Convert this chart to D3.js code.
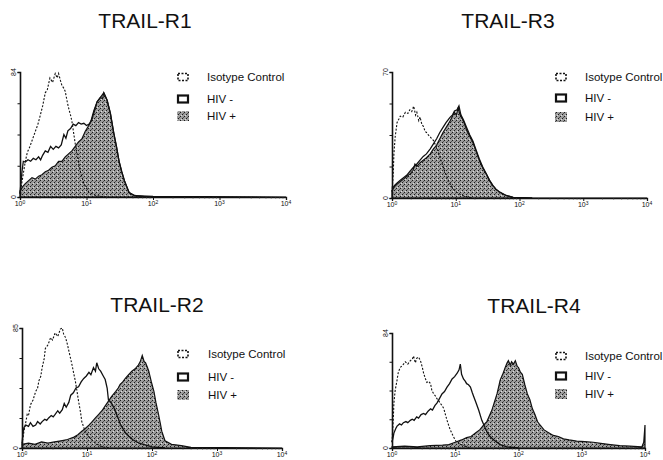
<!DOCTYPE html>
<html>

<head>
  <meta charset="utf-8">
  <title>TRAIL receptor histograms</title>
  <style>
    body { margin: 0; background: #fff; }
    text { font-family: "Liberation Sans", Arial, sans-serif; fill: #111; }
  </style>
</head>

<body>
  <svg width="663" height="460"></svg>
  <script src="https://d3js.org/d3.v7.min.js"></script>
  <script>
    // 1. data: [log10 fluorescence, cell count]
    var legendLabels = ["Isotype Control", "HIV -", "HIV +"];
    var decadeTicks = [0, 1, 2, 3, 4];

    var r1Iso = [[0,2],[0.04,13],[0.08,24],[0.11,30],[0.15,34],[0.19,39],[0.23,44],[0.27,49],[0.30,54],[0.34,61],[0.38,70],[0.41,72],[0.45,80],[0.49,77],[0.53,83],[0.56,80],[0.58,83],[0.61,78],[0.63,75],[0.66,73],[0.68,71],[0.71,64],[0.73,60],[0.76,55],[0.78,51],[0.81,42],[0.83,36],[0.86,29],[0.88,23],[0.92,15],[0.96,9],[1.00,6],[1.04,3],[1.14,1],[1.30,0]];
    var r1Neg = [[0,2.5],[0.03,17],[0.05,24],[0.08,23.5],[0.12,25],[0.16,24],[0.20,26],[0.24,25],[0.28,27],[0.31,25],[0.34,28],[0.38,31],[0.42,30],[0.46,34],[0.50,32],[0.54,34],[0.58,33],[0.62,35],[0.66,42],[0.69,39.5],[0.72,44.5],[0.76,46],[0.80,49],[0.84,48],[0.88,50],[0.92,49],[0.96,49.5],[1.00,48],[1.04,49],[1.08,52],[1.12,58],[1.16,64],[1.21,67],[1.26,70],[1.31,65],[1.36,56],[1.41,43],[1.45,34],[1.49,24],[1.53,17],[1.57,11],[1.64,3],[1.72,1],[1.90,0]];
    var r1Pos = [[0,4],[0.04,7],[0.08,9],[0.13,11],[0.18,13],[0.23,12],[0.28,14],[0.33,15],[0.38,17],[0.43,18],[0.48,20],[0.53,21],[0.58,24],[0.63,24],[0.68,27],[0.73,29],[0.78,31],[0.83,34],[0.88,37],[0.93,39],[0.98,44],[1.02,47],[1.06,50],[1.11,58],[1.16,64],[1.21,67],[1.24,66],[1.26,70],[1.29,67],[1.31,65],[1.36,56],[1.41,43],[1.45,34],[1.49,24],[1.53,17],[1.57,11],[1.64,3],[1.72,1],[2.0,0.4],[4,0]];

    var r3Iso = [[0,3.5],[0.02,14],[0.03,24.5],[0.05,34],[0.08,42],[0.11,44],[0.13,45.5],[0.17,45],[0.21,47.6],[0.25,47],[0.28,49],[0.31,48],[0.34,51],[0.37,46],[0.39,47.6],[0.42,43],[0.44,45],[0.47,40.6],[0.49,40],[0.52,37],[0.54,36.4],[0.57,35],[0.60,34],[0.62,33],[0.65,32],[0.70,28],[0.75,23],[0.80,17.5],[0.85,12.6],[0.90,8.4],[0.95,5.6],[1.00,3.5],[1.10,1.4],[1.25,0]];
    var r3Neg = [[0,4.9],[0.04,7],[0.08,8.4],[0.13,9.8],[0.18,11.2],[0.23,12.6],[0.28,14.7],[0.33,16.8],[0.39,18.9],[0.44,21],[0.49,23.1],[0.54,24.5],[0.60,27.3],[0.65,30.1],[0.70,32.9],[0.75,36.4],[0.80,39.2],[0.85,42],[0.91,44.8],[0.95,46.2],[0.98,48.3],[1.02,49],[1.05,51.1],[1.08,46.2],[1.12,43.4],[1.17,39.2],[1.22,35],[1.27,31.5],[1.32,26.6],[1.37,21.7],[1.42,17.5],[1.48,13.3],[1.53,9.8],[1.58,7],[1.63,4.9],[1.68,3.5],[1.79,1.4],[1.90,0.35],[2.2,0]];
    var r3Pos = [[0,4.2],[0.04,6.3],[0.08,7.7],[0.13,9.1],[0.18,10.5],[0.23,11.9],[0.28,13.3],[0.33,15.4],[0.36,18.9],[0.39,17.5],[0.44,19.6],[0.49,21],[0.54,22.4],[0.60,24.5],[0.65,27.3],[0.70,29.4],[0.75,32.9],[0.80,36.4],[0.85,39.2],[0.91,42.7],[0.95,45.5],[0.98,47.6],[1.01,46.2],[1.04,50.4],[1.06,46.9],[1.09,44.8],[1.13,42],[1.17,37.8],[1.22,34.3],[1.27,30.8],[1.32,25.9],[1.37,21],[1.42,16.8],[1.48,13.3],[1.53,9.8],[1.58,7],[1.63,4.9],[1.68,3.5],[1.79,1.4],[1.90,0.35],[2.2,0],[4,0]];

    var r2Iso = [[0,2.6],[0.02,8.5],[0.03,11.9],[0.06,18.7],[0.08,23.8],[0.10,23],[0.13,30.6],[0.17,34],[0.21,40],[0.24,42.5],[0.26,47.6],[0.29,51],[0.31,57],[0.34,62.9],[0.36,70.6],[0.40,73.1],[0.44,78.2],[0.47,76.5],[0.51,81.6],[0.55,79],[0.59,84.2],[0.62,85],[0.64,80.8],[0.67,78.2],[0.70,73.1],[0.72,68.9],[0.75,62.9],[0.77,58.7],[0.80,51.9],[0.82,47.6],[0.85,39.1],[0.87,33.2],[0.90,25.5],[0.92,18.7],[0.97,11.9],[1.01,9.4],[1.05,6.8],[1.13,3.4],[1.23,0.85],[1.35,0]];
    var r2Neg = [[0,3.4],[0.02,11.9],[0.03,14.5],[0.06,16.2],[0.10,15.3],[0.13,17.9],[0.17,15.3],[0.21,16.2],[0.24,18.7],[0.28,17],[0.31,18.7],[0.35,20.4],[0.38,19.6],[0.41,21.3],[0.45,23],[0.48,22.1],[0.51,23.8],[0.55,26.4],[0.58,24.7],[0.62,27.2],[0.65,31.5],[0.68,28.9],[0.72,32.3],[0.75,37.4],[0.79,39.1],[0.83,42.5],[0.87,43.4],[0.91,46.8],[0.95,49.3],[0.99,51],[1.03,53.6],[1.06,51.9],[1.10,57],[1.13,54.4],[1.15,60.4],[1.18,56.1],[1.21,54.4],[1.25,51],[1.28,48.5],[1.31,42.5],[1.33,34],[1.37,32.3],[1.42,28],[1.47,22.1],[1.52,16.2],[1.60,10.2],[1.70,6],[1.80,3.4],[2.0,0.85],[2.2,0]];
    var r2Pos = [[0,2.6],[0.1,3.4],[0.2,2.6],[0.3,4.3],[0.4,3.4],[0.5,4.3],[0.6,5.1],[0.7,6],[0.8,7.7],[0.86,9.4],[0.92,11.9],[0.97,13.6],[1.03,16.2],[1.08,18.7],[1.13,21.3],[1.18,23.8],[1.23,26.4],[1.28,29.8],[1.33,33.2],[1.38,36.6],[1.44,40],[1.48,42.5],[1.51,45],[1.55,46.8],[1.59,49.3],[1.64,51.9],[1.69,54.4],[1.74,56.1],[1.79,58.7],[1.82,61.2],[1.85,65.5],[1.88,61.2],[1.90,60.4],[1.93,57],[1.95,54.4],[1.99,46.8],[2.03,40],[2.06,32.3],[2.10,23.8],[2.13,17],[2.15,11.9],[2.20,5.1],[2.30,2.6],[2.45,1.7],[2.6,0.4],[4,0]];

    var r4Iso = [[0,4.2],[0.02,21],[0.03,32.8],[0.05,42],[0.08,49.6],[0.10,55.4],[0.13,58.8],[0.17,60.5],[0.21,63],[0.25,61.3],[0.29,63.8],[0.32,64.7],[0.34,67.2],[0.37,62.2],[0.39,65.5],[0.42,66.4],[0.45,63.8],[0.48,58.8],[0.50,54.6],[0.53,50.4],[0.55,47.9],[0.58,48.7],[0.61,47],[0.63,42],[0.66,39.5],[0.69,37.8],[0.71,36.1],[0.74,34.4],[0.76,32.8],[0.79,31.1],[0.82,28.6],[0.85,23.5],[0.87,20.2],[0.90,16],[0.92,13.4],[0.97,8.4],[1.01,5],[1.05,3.4],[1.13,1.7],[1.25,0]];
    var r4Neg = [[0,4.2],[0.02,8.4],[0.03,10.9],[0.06,14.3],[0.08,16],[0.12,17.6],[0.15,16.8],[0.18,18.5],[0.22,19.3],[0.25,18.5],[0.29,20.2],[0.32,21],[0.35,20.2],[0.39,22.7],[0.42,21.8],[0.46,24.4],[0.50,25.2],[0.53,24.4],[0.57,26.9],[0.61,28.6],[0.64,27.7],[0.68,31.1],[0.71,32.8],[0.75,36.1],[0.79,39.5],[0.83,41.2],[0.87,44.5],[0.91,47],[0.95,50.4],[0.99,52.1],[1.03,54.6],[1.06,57.1],[1.08,61.3],[1.10,53.8],[1.13,50.4],[1.16,48.7],[1.18,47],[1.21,46.2],[1.24,44.5],[1.27,40.3],[1.29,37.8],[1.33,32.8],[1.37,27.7],[1.42,20.2],[1.46,16],[1.50,11.8],[1.55,8.4],[1.61,5.9],[1.71,2.5],[1.82,0.8],[2.0,0]];
    var r4Pos = [[0,0.8],[0.2,1.3],[0.4,0.8],[0.6,1.7],[0.8,2.1],[0.9,2.5],[1.0,4.2],[1.1,5.9],[1.18,7.6],[1.25,8.4],[1.32,10.9],[1.39,13.4],[1.45,16.8],[1.50,19.3],[1.54,23.5],[1.58,27.7],[1.62,33.6],[1.66,39.5],[1.69,45.4],[1.71,49.6],[1.75,53.8],[1.79,58.8],[1.82,62.2],[1.84,63.8],[1.87,60.5],[1.89,63],[1.92,61.3],[1.95,63.8],[1.98,59.6],[2.0,58.8],[2.03,55.4],[2.06,53.8],[2.10,46.2],[2.14,39.5],[2.18,35.3],[2.22,28.6],[2.26,24.4],[2.30,19.3],[2.34,16.8],[2.40,13.4],[2.45,11.8],[2.55,9.2],[2.63,8.4],[2.71,6.7],[2.80,5.9],[2.92,5],[3.05,4.6],[3.18,4.2],[3.30,3.4],[3.45,2.5],[3.60,1.7],[3.76,1.3],[3.95,0.8],[3.98,4.2],[4.0,16.8],[4.0,0]];

    // 2. panel layout
    var panels = [
      { title: "TRAIL-R1", tx: 145, ty: 28, x0: 20, x1: 286, top: 72, base: 197, ymax: 84,
        iso: r1Iso, neg: r1Neg, pos: r1Pos, lx: 177, ltx: 207, rows: [77, 99, 116] },
      { title: "TRAIL-R3", tx: 508, ty: 28, x0: 392, x1: 647, top: 72, base: 198, ymax: 70,
        iso: r3Iso, neg: r3Neg, pos: r3Pos, lx: 555, ltx: 585, rows: [77, 98, 117] },
      { title: "TRAIL-R2", tx: 157, ty: 312, x0: 22, x1: 282, top: 328, base: 448, ymax: 85,
        iso: r2Iso, neg: r2Neg, pos: r2Pos, lx: 177, ltx: 208, rows: [354, 377, 395] },
      { title: "TRAIL-R4", tx: 534, ty: 313, x0: 392, x1: 645, top: 333, base: 448, ymax: 84,
        iso: r4Iso, neg: r4Neg, pos: r4Pos, lx: 555, ltx: 585, rows: [356, 376, 394] }
    ];

    var svg = d3.select("svg");

    // stippled fill for HIV+
    var pat = svg.append("defs").append("pattern")
      .attr("id", "stip")
      .attr("width", 4).attr("height", 4)
      .attr("patternUnits", "userSpaceOnUse");
    pat.append("rect").attr("width", 4).attr("height", 4).attr("fill", "#9c9c9c");
    pat.append("rect").attr("x", 0).attr("y", 0).attr("width", 1).attr("height", 1).attr("fill", "#1a1a1a");
    pat.append("rect").attr("x", 2).attr("y", 2).attr("width", 1).attr("height", 1).attr("fill", "#1a1a1a");
    pat.append("rect").attr("x", 3).attr("y", 1).attr("width", 1).attr("height", 1).attr("fill", "#555");
    pat.append("rect").attr("x", 1).attr("y", 3).attr("width", 1).attr("height", 1).attr("fill", "#ddd");

    panels.forEach(function (p) {
      var x = d3.scaleLog().domain([1, 10000]).range([p.x0, p.x1]);
      var y = d3.scaleLinear().domain([0, p.ymax]).range([p.base, p.top]);
      var g = svg.append("g");

      var area = d3.area()
        .x(function (d) { return x(Math.pow(10, d[0])); })
        .y0(y(0))
        .y1(function (d) { return y(d[1]); });
      var line = d3.line()
        .x(function (d) { return x(Math.pow(10, d[0])); })
        .y(function (d) { return y(d[1]); });

      // HIV+ filled
      g.append("path").attr("d", area(p.pos))
        .attr("fill", "url(#stip)")
        .attr("stroke", "#111").attr("stroke-width", 1.2);
      // HIV- solid
      g.append("path").attr("d", line(p.neg))
        .attr("fill", "none").attr("stroke", "#111").attr("stroke-width", 1.3);
      // isotype dashed
      g.append("path").attr("d", line(p.iso))
        .attr("fill", "none").attr("stroke", "#111").attr("stroke-width", 1.1)
        .attr("stroke-dasharray", "2,1.6");

      // axes
      var xAxis = d3.axisBottom(x)
        .tickValues(decadeTicks.map(function (e) { return Math.pow(10, e); }))
        .tickSize(3).tickFormat("");
      var xa = g.append("g").attr("transform", "translate(0," + p.base + ")").call(xAxis);
      xa.select(".domain").attr("stroke-width", 1.3).attr("stroke", "#111");
      xa.selectAll(".tick line").attr("stroke", "#111");

      var minor = [];
      for (var e = 0; e < 4; e++) {
        for (var m = 2; m < 10; m++) minor.push(m * Math.pow(10, e));
      }
      g.selectAll(".minor").data(minor).enter().append("line")
        .attr("x1", function (d) { return x(d); }).attr("x2", function (d) { return x(d); })
        .attr("y1", p.base).attr("y2", p.base + 1.5)
        .attr("stroke", "#333").attr("stroke-width", 0.7);

      var yAxis = d3.axisLeft(y)
        .tickValues([0, p.ymax * 0.25, p.ymax * 0.5, p.ymax * 0.75, p.ymax])
        .tickSize(2.5).tickFormat("");
      var ya = g.append("g").attr("transform", "translate(" + p.x0 + ",0)").call(yAxis);
      ya.select(".domain").attr("stroke-width", 1.6).attr("stroke", "#111");
      ya.selectAll(".tick line").attr("stroke", "#111");

      // y labels (rotated)
      [0, p.ymax].forEach(function (v) {
        g.append("text")
          .attr("transform", "translate(" + (p.x0 - 4) + "," + y(v) + ") rotate(-90)")
          .attr("text-anchor", "middle")
          .attr("font-size", 7)
          .text(v);
      });

      // x labels 10^n
      decadeTicks.forEach(function (e) {
        var t = g.append("text")
          .attr("x", x(Math.pow(10, e)))
          .attr("y", p.base + 9)
          .attr("text-anchor", "middle")
          .attr("font-size", 7);
        t.append("tspan").text("10");
        t.append("tspan").attr("font-size", 5).attr("dy", -2.5).text(e);
      });

      // title
      g.append("text")
        .attr("x", p.tx).attr("y", p.ty)
        .attr("text-anchor", "middle")
        .attr("font-size", 21)
        .text(p.title);

      // legend
      var lg = g.append("g");
      lg.append("rect").attr("x", p.lx + 1).attr("y", p.rows[0] - 3.5).attr("width", 10).attr("height", 7)
        .attr("fill", "none").attr("stroke", "#111").attr("stroke-width", 1.6).attr("stroke-dasharray", "2,1.5");
      lg.append("rect").attr("x", p.lx + 1).attr("y", p.rows[1] - 3.5).attr("width", 10).attr("height", 7)
        .attr("fill", "#fff").attr("stroke", "#111").attr("stroke-width", 2.2);
      lg.append("rect").attr("x", p.lx).attr("y", p.rows[2] - 5).attr("width", 12).attr("height", 10)
        .attr("fill", "url(#stip)");
      legendLabels.forEach(function (s, i) {
        lg.append("text")
          .attr("x", p.ltx).attr("y", p.rows[i] + 4)
          .attr("font-size", 11.5)
          .text(s);
      });
    });
  </script>
</body>

</html>
